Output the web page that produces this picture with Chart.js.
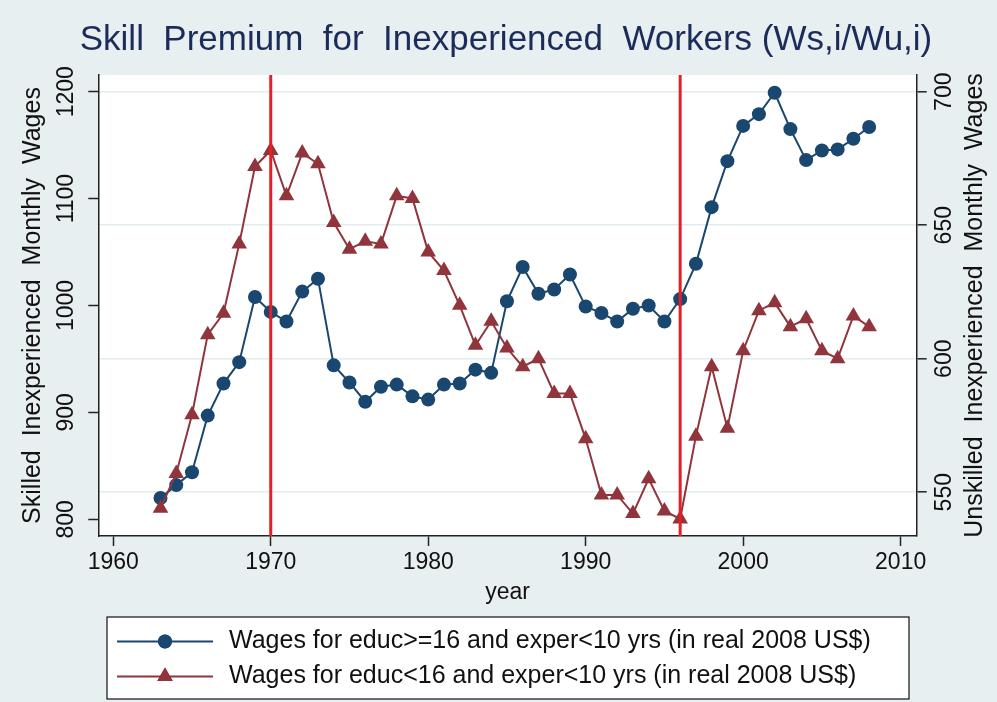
<!DOCTYPE html>
<html lang="en">
<head>
<meta charset="UTF-8" />
<title>Skill Premium for Inexperienced Workers</title>
<script src="https://cdn.jsdelivr.net/npm/chart.js@4"></script>
<style>
    html, body { margin: 0; padding: 0; background: #e7eff1; }
    #chart { display: block; }
</style>
</head>
<body>
<canvas id="chart" width="997" height="702"></canvas>
<script>
    // data
    const years = [1963, 1964, 1965, 1966, 1967, 1968, 1969, 1970, 1971, 1972,
                   1973, 1974, 1975, 1976, 1977, 1978, 1979, 1980, 1981, 1982,
                   1983, 1984, 1985, 1986, 1987, 1988, 1989, 1990, 1991, 1992,
                   1993, 1994, 1995, 1996, 1997, 1998, 1999, 2000, 2001, 2002,
                   2003, 2004, 2005, 2006, 2007, 2008];
    // educ>=16, exper<10 (left axis)
    const skilledWages = [820, 832, 844, 897, 927, 947, 1008, 994, 985, 1013,
                          1025, 944, 928, 910, 924, 926, 915, 912, 926, 927,
                          940, 937, 1004, 1036, 1011, 1015, 1029, 999, 993, 985,
                          997, 1000, 985, 1006, 1039, 1092, 1135, 1168, 1179, 1199,
                          1165, 1136, 1145, 1146, 1156, 1167];
    // educ<16, exper<10 (right axis)
    const unskilledWages = [544, 557, 579, 609, 617, 643, 672, 678, 661, 677,
                            673, 651, 641, 644, 643, 661, 660, 640, 633, 620,
                            605, 614, 604, 597, 600, 587, 587, 570, 549, 549,
                            542, 555, 543, 540, 571, 597, 574, 603, 618, 621,
                            612, 615, 603, 600, 616, 612];

    const xTicks = [1960, 1970, 1980, 1990, 2000, 2010];
    const leftTicks = [800, 900, 1000, 1100, 1200];
    const rightTicks = [550, 600, 650, 700];
    const breakYears = [1970, 1996];
    const seriesLabels = [
        'Wages for educ>=16 and exper<10 yrs (in real 2008 US$)',
        'Wages for educ<16 and exper<10 yrs (in real 2008 US$)'
    ];
    const chartTitle = 'Skill  Premium  for  Inexperienced  Workers (Ws,i/Wu,i)';
    const leftTitle = 'Skilled  Inexperienced  Monthly  Wages';
    const rightTitle = 'Unskilled  Inexperienced  Monthly  Wages';

    const NAVY = '#1a476f';
    const MAROON = '#90353b';
    const BG = '#e7eff1';
    const GRID = '#e2ecef';
    const FONT = '"Liberation Sans", Arial, sans-serif';

    Chart.defaults.font.family = FONT;
    Chart.defaults.color = '#111';

    const toPoints = vals => years.map((yr, i) => ({ x: yr, y: vals[i] }));

    // backgrounds: bluish-grey outer, white plot region
    const backgroundPlugin = {
        id: 'background',
        beforeDraw(chart) {
            const { ctx, chartArea } = chart;
            ctx.save();
            ctx.fillStyle = BG;
            ctx.fillRect(0, 0, chart.width, chart.height);
            ctx.fillStyle = '#fff';
            ctx.fillRect(chartArea.left, chartArea.top,
                chartArea.right - chartArea.left, chartArea.bottom - chartArea.top);
            ctx.restore();
        }
    };

    function rotatedText(ctx, text, x, y) {
        ctx.save();
        ctx.translate(x, y);
        ctx.rotate(-Math.PI / 2);
        ctx.fillText(text, 0, 0);
        ctx.restore();
    }

    // title, rotated y tick labels and both y titles (stata reads them bottom-to-top)
    const textPlugin = {
        id: 'stataText',
        afterDraw(chart) {
            const { ctx, chartArea } = chart;
            const midY = (chartArea.top + chartArea.bottom) / 2;
            ctx.save();
            ctx.textAlign = 'center';
            ctx.textBaseline = 'alphabetic';
            ctx.fillStyle = '#1b2c5b';
            ctx.font = '35px ' + FONT;
            ctx.fillText(chartTitle, 506, 50);

            ctx.textBaseline = 'middle';
            ctx.fillStyle = '#111';
            ctx.font = '23px ' + FONT;
            [['y', 67], ['y1', 945]].forEach(([id, x]) => {
                const scale = chart.scales[id];
                scale.ticks.forEach(t => {
                    rotatedText(ctx, String(t.value), x, scale.getPixelForValue(t.value));
                });
            });

            ctx.font = '25px ' + FONT;
            rotatedText(ctx, leftTitle, 33, midY);
            rotatedText(ctx, rightTitle, 975, midY);
            ctx.restore();
        }
    };

    // red xlines at 1970 and 1996
    const breakLinesPlugin = {
        id: 'breakLines',
        afterDatasetsDraw(chart) {
            const { ctx, chartArea, scales } = chart;
            ctx.save();
            ctx.strokeStyle = '#e81e25';
            ctx.lineWidth = 3;
            breakYears.forEach(yr => {
                const x = scales.x.getPixelForValue(yr);
                ctx.beginPath();
                ctx.moveTo(x, chartArea.top);
                ctx.lineTo(x, chartArea.bottom);
                ctx.stroke();
            });
            ctx.restore();
        }
    };

    // boxed legend with line + marker samples
    const legendBoxPlugin = {
        id: 'legendBox',
        afterDraw(chart) {
            const ctx = chart.ctx;
            const box = { left: 107, top: 617, right: 909, bottom: 699 };
            ctx.save();
            ctx.fillStyle = '#fff';
            ctx.fillRect(box.left, box.top, box.right - box.left, box.bottom - box.top);
            ctx.strokeStyle = '#111';
            ctx.lineWidth = 1.2;
            ctx.strokeRect(box.left, box.top, box.right - box.left, box.bottom - box.top);

            chart.data.datasets.forEach((ds, i) => {
                const y = 641.5 + i * 35;
                ctx.strokeStyle = ds.borderColor;
                ctx.lineWidth = ds.borderWidth;
                ctx.beginPath();
                ctx.moveTo(117, y);
                ctx.lineTo(213, y);
                ctx.stroke();
                ctx.fillStyle = ds.pointBackgroundColor;
                Chart.helpers.drawPoint(ctx, {
                    pointStyle: ds.pointStyle, radius: ds.pointRadius,
                    rotation: 0, borderWidth: 0
                }, 165, y);
                ctx.fill();
                ctx.fillStyle = '#111';
                ctx.font = '25px ' + FONT;
                ctx.textAlign = 'left';
                ctx.textBaseline = 'middle';
                ctx.fillText(seriesLabels[i], 229, y);
            });
            ctx.restore();
        }
    };

    new Chart(document.getElementById('chart'), {
        type: 'line',
        data: {
            datasets: [
                {
                    label: seriesLabels[0],
                    data: toPoints(skilledWages),
                    yAxisID: 'y',
                    borderColor: NAVY,
                    backgroundColor: NAVY,
                    pointBackgroundColor: NAVY,
                    pointBorderColor: NAVY,
                    pointStyle: 'circle',
                    pointRadius: 7,
                    pointBorderWidth: 0,
                    borderWidth: 2,
                    tension: 0,
                    order: 2
                },
                {
                    label: seriesLabels[1],
                    data: toPoints(unskilledWages),
                    yAxisID: 'y1',
                    borderColor: MAROON,
                    backgroundColor: MAROON,
                    pointBackgroundColor: MAROON,
                    pointBorderColor: MAROON,
                    pointStyle: 'triangle',
                    pointRadius: 9,
                    pointBorderWidth: 0,
                    borderWidth: 2,
                    tension: 0,
                    order: 1
                }
            ]
        },
        options: {
            responsive: false,
            animation: false,
            events: [],
            layout: { padding: { top: 75, left: 0, right: 0, bottom: 0 } },
            plugins: {
                legend: { display: false },
                tooltip: { enabled: false },
                title: { display: false }
            },
            scales: {
                x: {
                    type: 'linear',
                    min: 1959.05,
                    max: 2011.02,
                    afterBuildTicks: axis => { axis.ticks = xTicks.map(v => ({ value: v })); },
                    afterFit: axis => { axis.height = 166; },
                    ticks: {
                        font: { size: 23 }, color: '#111', padding: 3, maxRotation: 0,
                        callback: v => String(v)
                    },
                    grid: { drawOnChartArea: false, tickLength: 10, tickColor: '#222', tickWidth: 1.5 },
                    border: { display: true, color: '#222', width: 1.5 },
                    title: {
                        display: true, text: 'year', color: '#111',
                        font: { size: 23 }, padding: { top: 0, bottom: 96 }
                    }
                },
                y: {
                    position: 'left',
                    min: 784.4,
                    max: 1215.6,
                    afterBuildTicks: axis => { axis.ticks = leftTicks.map(v => ({ value: v })); },
                    afterFit: axis => { axis.width = 98.3; },
                    ticks: { display: false },
                    grid: { drawOnChartArea: false, tickLength: 10, tickColor: '#222', tickWidth: 1.5 },
                    border: { display: true, color: '#222', width: 1.5 }
                },
                y1: {
                    position: 'right',
                    min: 533.6,
                    max: 706.25,
                    afterBuildTicks: axis => { axis.ticks = rightTicks.map(v => ({ value: v })); },
                    afterFit: axis => { axis.width = 80.3; },
                    ticks: { display: false },
                    grid: { drawOnChartArea: true, color: GRID, lineWidth: 1.6, tickLength: 10, tickColor: '#222', tickWidth: 1.5 },
                    border: { display: true, color: '#222', width: 1.5 }
                }
            }
        },
        plugins: [backgroundPlugin, breakLinesPlugin, textPlugin, legendBoxPlugin]
    });
</script>
</body>
</html>
